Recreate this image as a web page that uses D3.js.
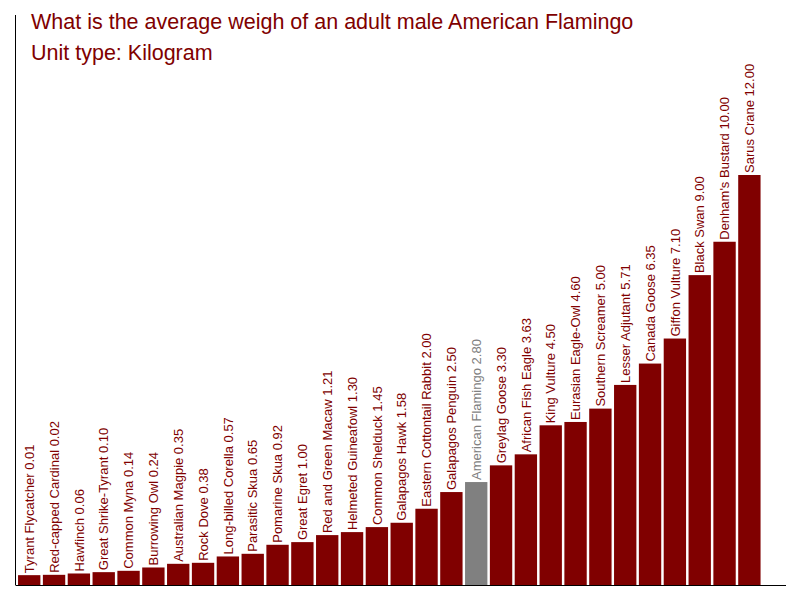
<!DOCTYPE html>
<html>
<head>
<meta charset="utf-8">
<script src="https://cdn.jsdelivr.net/npm/d3@7"></script>
<style>
  body { margin: 0; background: #fff; }
  svg { font-family: Arial, "Liberation Sans", sans-serif; }
</style>
</head>
<body>
<svg width="800" height="600"></svg>
<script>
var birds = ['Tyrant Flycatcher', 'Red-capped Cardinal', 'Hawfinch', 'Great Shrike-Tyrant',
  'Common Myna', 'Burrowing Owl', 'Australian Magpie', 'Rock Dove', 'Long-billed Corella',
  'Parasitic Skua', 'Pomarine Skua', 'Great Egret', 'Red and Green Macaw', 'Helmeted Guineafowl',
  'Common Shelduck', 'Galapagos Hawk', 'Eastern Cottontail Rabbit', 'Galapagos Penguin',
  'American Flamingo', 'Greylag Goose', 'African Fish Eagle', 'King Vulture', 'Eurasian Eagle-Owl',
  'Southern Screamer', 'Lesser Adjutant', 'Canada Goose', 'Giffon Vulture', 'Black Swan',
  "Denham's Bustard", 'Sarus Crane'];
var weights = [0.01, 0.02, 0.06, 0.10, 0.14, 0.24, 0.35, 0.38, 0.57, 0.65, 0.92, 1.00, 1.21, 1.30,
  1.45, 1.58, 2.00, 2.50, 2.80, 3.30, 3.63, 4.50, 4.60, 5.00, 5.71, 6.35, 7.10, 9.00, 10.00, 12.00];
var highlight = 'American Flamingo';
var titleLines = ['What is the average weigh of an adult male American Flamingo', 'Unit type: Kilogram'];

var red = '#800000';
var grey = '#808080';

var svg = d3.select('svg');
var baseY = 585;
var axisX = 15.5;

var x = d3.scaleBand()
  .domain(birds)
  .range([16.8, 761.8])
  .paddingInner(0.1)
  .paddingOuter(0.05);

var y = d3.scaleLinear()
  .domain([-0.285, 12])
  .range([baseY, 175]);

var data = birds.map(function (b, i) { return { name: b, value: weights[i] }; });

svg.append('g').selectAll('rect')
  .data(data)
  .enter().append('rect')
  .attr('x', d => x(d.name))
  .attr('y', d => y(d.value))
  .attr('width', x.bandwidth())
  .attr('height', d => baseY - y(d.value))
  .attr('fill', d => d.name === highlight ? grey : red);

svg.append('g').selectAll('text')
  .data(data)
  .enter().append('text')
  .attr('transform', d => 'translate(' + (x(d.name) + x.bandwidth() / 2) + ',' + (y(d.value) - 2) + ') rotate(-90)')
  .attr('dy', '0.36em')
  .attr('font-size', '13px')
  .attr('fill', d => d.name === highlight ? grey : red)
  .text(d => d.name + ' ' + d.value.toFixed(2));

// axis lines
svg.append('line')
  .attr('x1', axisX).attr('x2', axisX)
  .attr('y1', 15).attr('y2', baseY)
  .attr('stroke', 'black');
svg.append('line')
  .attr('x1', axisX).attr('x2', 786)
  .attr('y1', baseY + 0.5).attr('y2', baseY + 0.5)
  .attr('stroke', 'black');

svg.append('g').selectAll('text')
  .data(titleLines)
  .enter().append('text')
  .attr('x', 31)
  .attr('y', (d, i) => 29 + i * 31)
  .attr('font-size', '21.5px')
  .attr('fill', red)
  .text(d => d);
</script>
</body>
</html>
